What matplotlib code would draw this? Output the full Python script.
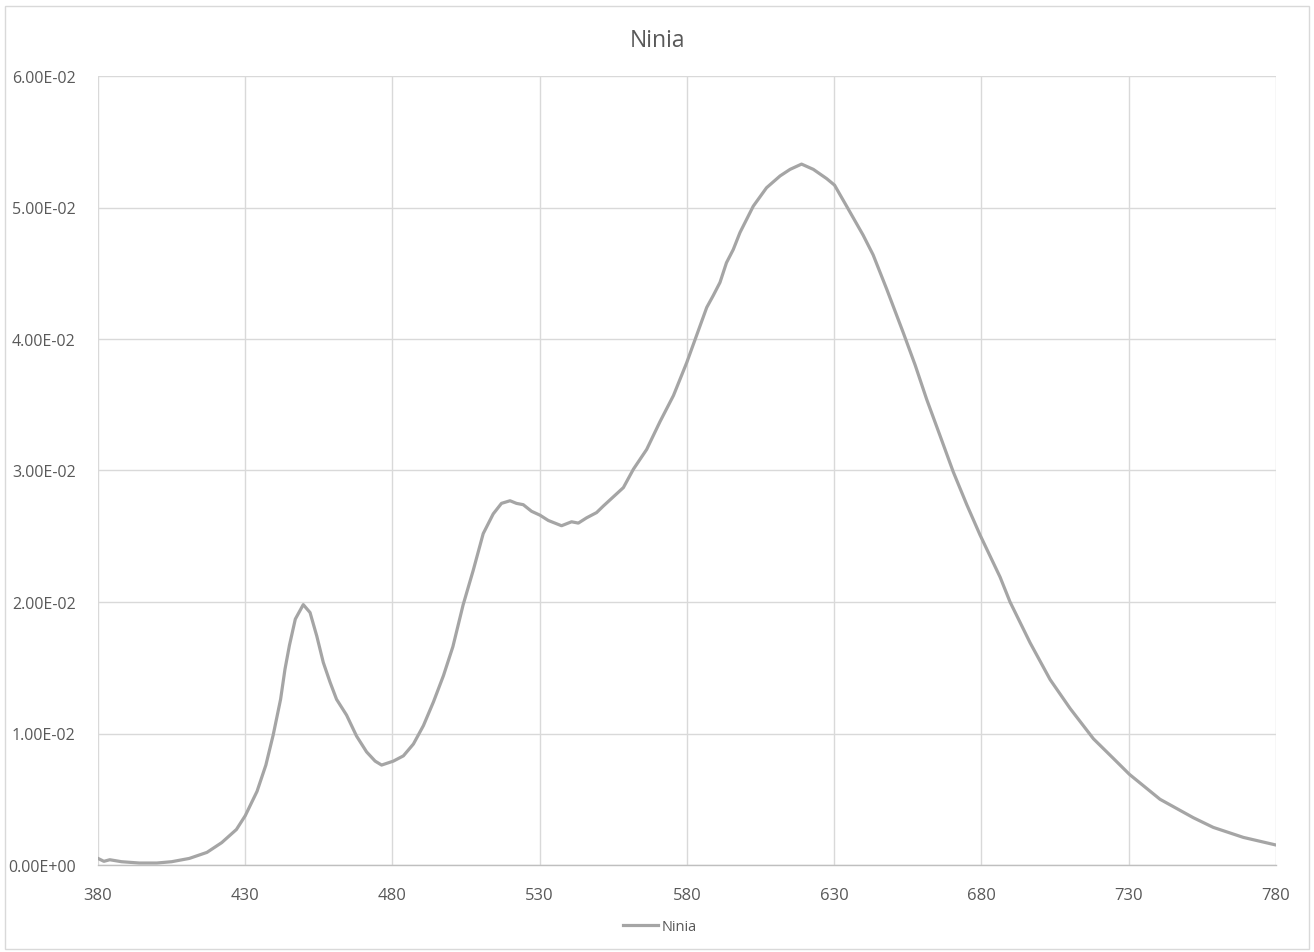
import matplotlib
matplotlib.use("Agg")
import matplotlib.pyplot as plt
from matplotlib.ticker import FuncFormatter, MultipleLocator
from matplotlib.patches import Rectangle

plt.rcParams['font.family'] = ['Open Sans', 'DejaVu Sans']

wavelength = [380, 382, 384, 388, 394, 400, 405, 411, 417, 422, 427, 430, 434, 437,
              439.5, 442, 443.5, 445, 447, 449.7, 452, 454.3, 456.5, 458.8, 461, 464.4,
              467.8, 471.2, 474.1, 476.3, 480.3, 483.7, 487.1, 490.5, 493.9, 497.3, 500.5,
              504, 507.4, 510.8, 514.2, 517, 519.9, 522.1, 524.4, 527.2, 530.1, 532.9,
              537.4, 540.8, 543.1, 545.9, 549.3, 551.6, 555, 558.4, 561.8, 566.3, 570.8,
              575.4, 579.9, 583.3, 586.7, 588.9, 591.2, 593.4, 595.7, 598, 602.5, 607,
              611.6, 615, 618.9, 622.9, 627.4, 630.1, 634.2, 639.8, 643.2, 647.8, 653.4,
              657.5, 661.4, 666, 670.4, 675, 679.5, 686.3, 689.7, 696.5, 703.3, 710.1, 718,
              724.8, 730.2, 740.6, 751.9, 758.7, 768.9, 779.6]
ninia = [0.00050, 0.00028, 0.00040, 0.00025, 0.00015, 0.00015, 0.00025, 0.00050, 0.00096,
         0.00170, 0.00270, 0.00375, 0.00560, 0.00760, 0.00990, 0.01260, 0.01490, 0.01670,
         0.01870, 0.01980, 0.01920, 0.01740, 0.01540, 0.01390, 0.01260, 0.01140, 0.00980,
         0.00860, 0.00790, 0.00760, 0.00790, 0.00830, 0.00920, 0.01060, 0.01240, 0.01440,
         0.01660, 0.01980, 0.02240, 0.02520, 0.02670, 0.02750, 0.02770, 0.02750, 0.02740,
         0.02690, 0.02660, 0.02620, 0.02580, 0.02610, 0.02600, 0.02640, 0.02680, 0.02730,
         0.02800, 0.02870, 0.03010, 0.03160, 0.03370, 0.03570, 0.03820, 0.04030, 0.04240,
         0.04330, 0.04430, 0.04580, 0.04680, 0.04810, 0.05010, 0.05150, 0.05240, 0.05290,
         0.05330, 0.05290, 0.05220, 0.05170, 0.05010, 0.04790, 0.04640, 0.04380, 0.04050,
         0.03800, 0.03540, 0.03260, 0.02990, 0.02740, 0.02510, 0.02190, 0.02000, 0.01690,
         0.01410, 0.01190, 0.00960, 0.00810, 0.00690, 0.00500, 0.00360, 0.00286, 0.00210,
         0.00154]
x_ticks = [380, 430, 480, 530, 580, 630, 680, 730, 780]

W, H = 1314, 953
fig = plt.figure(figsize=(W / 100, H / 100), dpi=100)
fig.patches.append(Rectangle((5 / W, 3 / H), 1304 / W, 943 / H, transform=fig.transFigure,
                             fill=False, edgecolor='#D9D9D9', linewidth=1))

ax = fig.add_axes([98 / W, 1 - 866 / H, (1276 - 98) / W, (866 - 77) / H])
ax.plot(wavelength, ninia, color='#A5A5A5', linewidth=2.3, label='Ninia', solid_joinstyle='round')

ax.set_xlim(380, 780)
ax.set_ylim(0, 0.06)
ax.set_xticks(x_ticks)
ax.yaxis.set_major_locator(MultipleLocator(0.01))
ax.yaxis.set_major_formatter(FuncFormatter(lambda v, p: f"{v:.2E}"))
ax.grid(True, color='#D9D9D9', linewidth=1)
ax.set_axisbelow(True)
for s in ['top', 'right', 'left']:
    ax.spines[s].set_visible(False)
ax.spines['bottom'].set_color('#BFBFBF')
ax.spines['bottom'].set_linewidth(1)
ax.tick_params(axis='x', length=0, labelsize=12, colors='#595959', pad=16)
ax.tick_params(axis='y', length=0, labelsize=11.5, colors='#595959', pad=16)

fig.text(658 / W, 1 - 41 / H, 'Ninia', ha='center', va='center', fontsize=16.5, color='#595959')
fig.legend(loc='center', bbox_to_anchor=(660 / W, 1 - 928 / H), frameon=False, fontsize=10.5,
           labelcolor='#595959', handlelength=2.4, handletextpad=0.3)

fig.savefig('out.png', dpi=100)
